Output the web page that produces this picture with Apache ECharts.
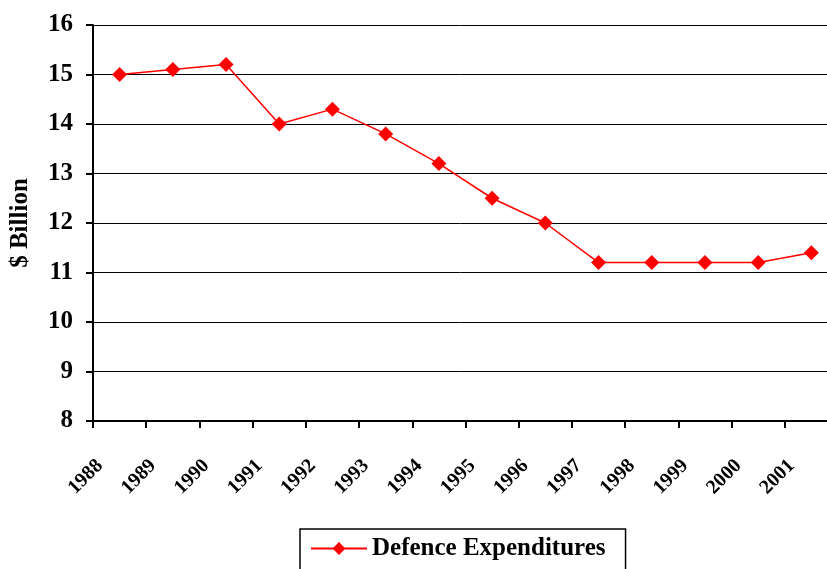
<!DOCTYPE html>
<html>
<head>
<meta charset="utf-8">
<script src="https://cdn.jsdelivr.net/npm/echarts@6/dist/echarts.min.js"></script>
<style>
  html, body { margin: 0; padding: 0; background: #fff; overflow: hidden; }
  #main { width: 827px; height: 569px; }
</style>
</head>
<body>
<div id="main"></div>
<script>
// chart data
var years = ['1988', '1989', '1990', '1991', '1992', '1993', '1994', '1995', '1996', '1997', '1998', '1999', '2000', '2001'];
var defence = [15.0, 15.1, 15.2, 14.0, 14.3, 13.8, 13.2, 12.5, 12.0, 11.2, 11.2, 11.2, 11.2, 11.4];
var seriesName = 'Defence Expenditures';
var yName = '$ Billion';

var serif = '"Liberation Serif", "DejaVu Serif", serif';

var chart = echarts.init(document.getElementById('main'));
chart.setOption({
    animation: false,
    // plot area runs past the right edge, as in the original (last tick cut off)
    grid: { left: 93, top: 25, right: -11, bottom: 148, outerBoundsMode: 'none', containLabel: false },
    legend: {
        data: [seriesName],
        left: 300,
        top: 529,
        padding: [7, 20, 14, 10],
        borderColor: '#000',
        borderWidth: 1.5,
        itemWidth: 56,
        itemHeight: 16,
        itemGap: 6,
        textStyle: { fontFamily: serif, fontWeight: 'bold', fontSize: 25, color: '#000' }
    },
    xAxis: {
        type: 'category',
        data: years,
        boundaryGap: true,
        axisLine: { lineStyle: { color: '#000', width: 2 } },
        axisTick: { show: true, alignWithLabel: false, length: 7, lineStyle: { color: '#000', width: 2 } },
        axisLabel: {
            rotate: 45,
            interval: 0,
            margin: 22,
            padding: [0, 28, 0, 0],
            fontFamily: serif,
            fontWeight: 'bold',
            fontSize: 20,
            color: '#000'
        }
    },
    yAxis: {
        type: 'value',
        min: 8,
        max: 16,
        interval: 1,
        name: yName,
        nameLocation: 'middle',
        nameGap: 60,
        nameTextStyle: { fontFamily: serif, fontWeight: 'bold', fontSize: 25, color: '#000' },
        axisLine: { show: true, lineStyle: { color: '#000', width: 2 } },
        axisTick: { show: true, length: 7, lineStyle: { color: '#000', width: 2 } },
        axisLabel: { margin: 20, fontFamily: serif, fontWeight: 'bold', fontSize: 25, color: '#000' },
        splitLine: { lineStyle: { color: '#000', width: 1 } }
    },
    series: [{
        name: seriesName,
        type: 'line',
        data: defence,
        symbol: 'diamond',
        symbolSize: 15,
        lineStyle: { color: '#ff0000', width: 1.5 },
        itemStyle: { color: '#ff0000' }
    }]
});
</script>
</body>
</html>
